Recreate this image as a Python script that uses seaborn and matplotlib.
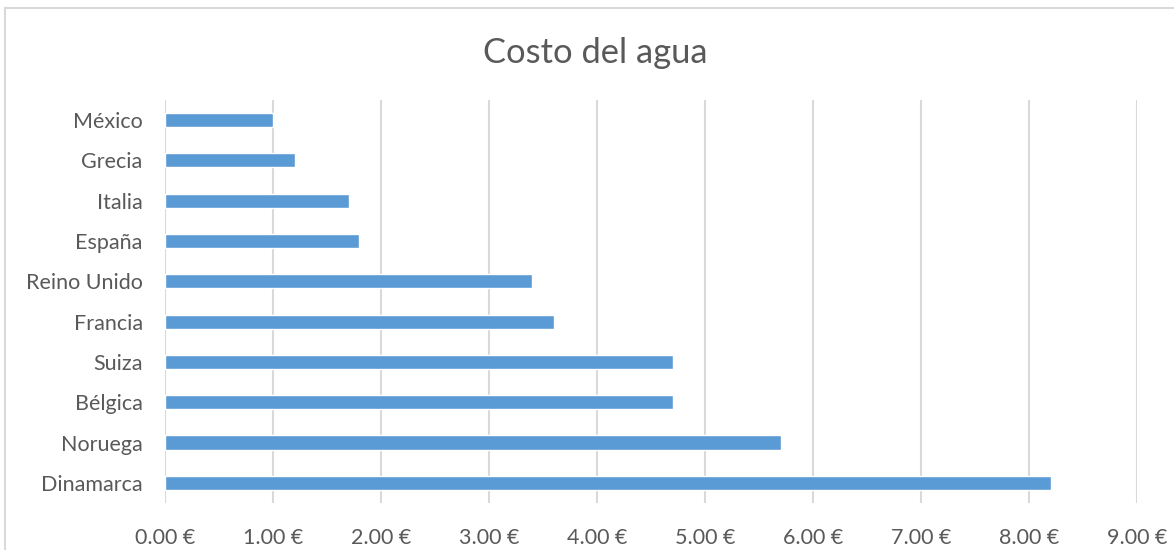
import pandas as pd
import seaborn as sns
import matplotlib.pyplot as plt
from matplotlib.patches import Rectangle

# Data
paises = ["México", "Grecia", "Italia", "España", "Reino Unido",
          "Francia", "Suiza", "Bélgica", "Noruega", "Dinamarca"]
costos = [1.0, 1.2, 1.7, 1.8, 3.4, 3.6, 4.7, 4.7, 5.7, 8.2]
ticks_x = [0, 1, 2, 3, 4, 5, 6, 7, 8, 9]

df = pd.DataFrame({"pais": paises, "costo": costos})

sns.set_style("white")
plt.rcParams['font.family'] = ['Lato', 'DejaVu Sans']

fig = plt.figure(figsize=(11.74, 5.5), dpi=100)
ax = fig.add_axes([0.1405, 0.0855, 0.828, 0.7327])

# gray frame of the chart area (cut at right and bottom)
fig.patches.append(Rectangle((5 / 1174, -0.05), 1.2, (550 - 8) / 550 + 0.05,
                             transform=fig.transFigure, fill=False,
                             edgecolor="#D9D9D9", linewidth=1.5))

sns.barplot(data=df, x="costo", y="pais", color="#5B9BD5", width=0.35,
            saturation=1, ax=ax, zorder=3)

ax.set_xlim(0, 9)
ax.set_ylim(9.5, -0.5)
ax.set_xticks(ticks_x)
ax.set_xticklabels([f"{t:.2f} €" for t in ticks_x])
ax.grid(axis="x", color="#D9D9D9", linewidth=1.5, zorder=0)
ax.grid(axis="y", visible=False)
for s in ax.spines.values():
    s.set_visible(False)
ax.tick_params(axis="both", length=0, labelsize=15.5, labelcolor="#595959")
ax.tick_params(axis="x", pad=18)
ax.tick_params(axis="y", pad=16)
ax.set_xlabel("")
ax.set_ylabel("")

fig.text(0.507, 0.903, "Costo del agua", ha="center", va="center",
         fontsize=24.8, color="#595959")

fig.savefig("out.png", dpi=100)
